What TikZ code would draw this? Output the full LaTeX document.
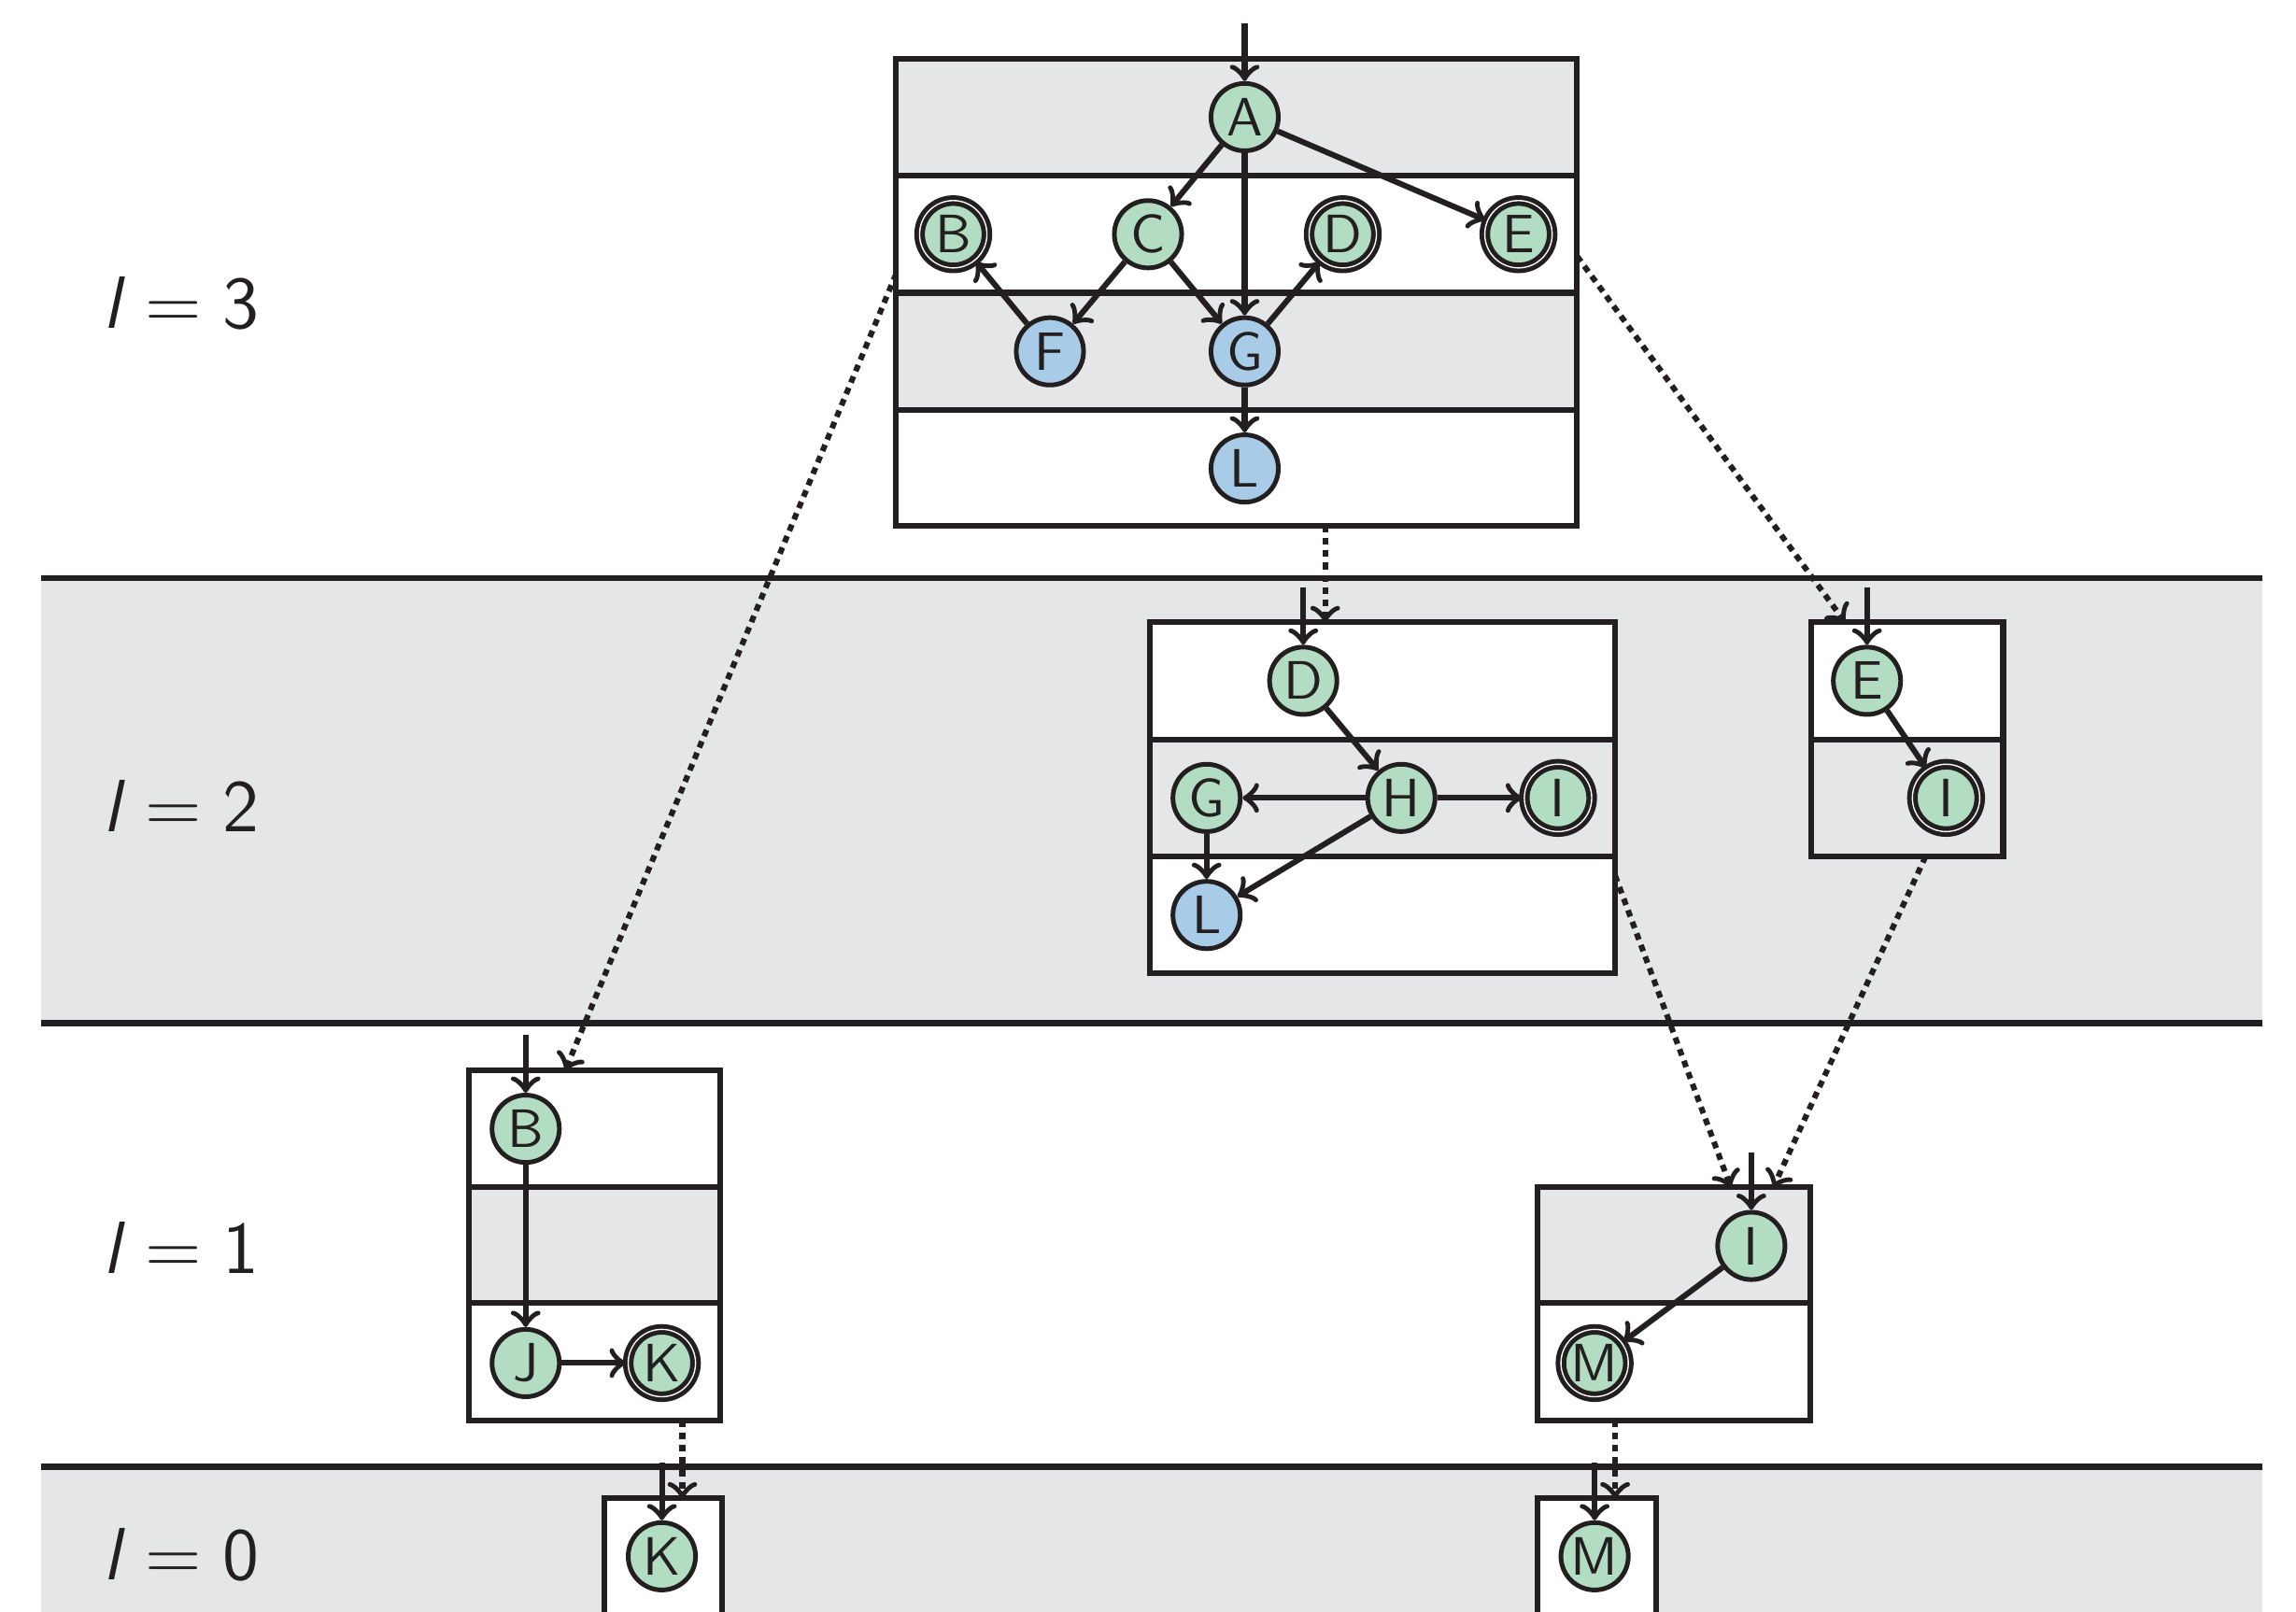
\documentclass[tikz,border=0pt]{standalone}
\usepackage{tikz}
\usetikzlibrary{arrows,positioning}
\definecolor{linec}{RGB}{35,31,32}
\definecolor{stgreen}{RGB}{179,221,194}
\definecolor{stblue}{RGB}{168,204,232}
\definecolor{bandgray}{RGB}{229,230,232}
\tikzset{
    state/.style={circle, draw=linec, line width=0.9pt, fill=stgreen, minimum size=0.46cm, inner sep=0pt, text=linec, font=\sffamily\fontsize{10.5}{12}\selectfont},
    final/.style={state, double, line width=0.9pt, double distance=0.25pt},
    deep/.style={fill=stblue},
    trans/.style={->, line width=1.1pt, draw=linec},
    jump/.style={->, line width=1.1pt, draw=linec, dash pattern=on 1.3pt off 1.1pt},
    frame/.style={draw=linec, line width=1.1pt},
    levelline/.style={draw=linec, line width=1.2pt},
    lvl/.style={anchor=base, text=linec, font=\sffamily\Large}
}

\begin{document}
\begin{tikzpicture}[x=1cm, y=1cm]
    \useasboundingbox (0,0) rectangle (15.68,-11.01);

    % levels
    \fill[bandgray] (0.28,-3.95) rectangle (15.45,-6.99);
    \fill[bandgray] (0.28,-10.02) rectangle (15.45,-11.01);
    \foreach \y in {-3.95,-6.99,-10.02}
        \draw[levelline] (0.28,\y) -- (15.45,\y);
    \node[lvl] (lvl3) at (1.235,-2.245) {\textsl{l}${}={}$3};
    \node[lvl] (lvl2) at (1.235,-5.68) {\textsl{l}${}={}$2};
    \node[lvl] (lvl1) at (1.235,-8.70) {\textsl{l}${}={}$1};
    \node[lvl] (lvl0) at (1.235,-10.79) {\textsl{l}${}={}$0};

    % boxes
    \fill[bandgray] (6.12,-0.40) rectangle (10.77,-1.20);
    \fill[bandgray] (6.12,-2.00) rectangle (10.77,-2.80);
    \draw[frame] (6.12,-0.40) rectangle (10.77,-3.59);
    \foreach \y in {-1.20,-2.00,-2.80}
        \draw[frame] (6.12,\y) -- (10.77,\y);

    \fill[white] (7.85,-4.25) rectangle (11.03,-6.65);
    \fill[bandgray] (7.85,-5.05) rectangle (11.03,-5.85);
    \draw[frame] (7.85,-4.25) rectangle (11.03,-6.65);
    \foreach \y in {-5.05,-5.85}
        \draw[frame] (7.85,\y) -- (11.03,\y);

    \fill[white] (12.37,-4.25) rectangle (13.68,-5.05);
    \draw[frame] (12.37,-4.25) rectangle (13.68,-5.85);
    \draw[frame] (12.37,-5.05) -- (13.68,-5.05);

    \fill[bandgray] (3.20,-8.11) rectangle (4.92,-8.90);
    \draw[frame] (3.20,-7.31) rectangle (4.92,-9.70);
    \foreach \y in {-8.11,-8.90}
        \draw[frame] (3.20,\y) -- (4.92,\y);

    \fill[bandgray] (10.50,-8.11) rectangle (12.36,-8.90);
    \draw[frame] (10.50,-8.11) rectangle (12.36,-9.70);
    \draw[frame] (10.50,-8.90) -- (12.36,-8.90);

    \fill[white] (4.13,-10.235) rectangle (4.93,-11.01);
    \draw[frame] (4.13,-11.01) -- (4.13,-10.235) -- (4.93,-10.235) -- (4.93,-11.01);
    \fill[white] (10.50,-10.235) rectangle (11.31,-11.01);
    \draw[frame] (10.50,-11.01) -- (10.50,-10.235) -- (11.31,-10.235) -- (11.31,-11.01);

    % states
    \node[state] (A3) at (8.50,-0.80) {A};
    \node[final] (B3) at (6.51,-1.60) {B};
    \node[state] (C3) at (7.84,-1.60) {C};
    \node[final] (D3) at (9.17,-1.60) {D};
    \node[final] (E3) at (10.37,-1.60) {E};
    \node[state, deep] (F3) at (7.17,-2.40) {F};
    \node[state, deep] (G3) at (8.50,-2.40) {G};
    \node[state, deep] (L3) at (8.50,-3.20) {L};

    \node[state] (D2) at (8.90,-4.65) {D};
    \node[state] (G2) at (8.24,-5.45) {G};
    \node[state] (H2) at (9.57,-5.45) {H};
    \node[final] (I2) at (10.64,-5.45) {I};
    \node[state, deep] (L2) at (8.24,-6.25) {L};
    \node[state] (E2) at (12.75,-4.65) {E};
    \node[final] (I2b) at (13.29,-5.45) {I};

    \node[state] (B1) at (3.59,-7.71) {B};
    \node[state] (J1) at (3.59,-9.31) {J};
    \node[final] (K1) at (4.52,-9.31) {K};
    \node[state] (I1) at (11.96,-8.51) {I};
    \node[final] (M1) at (10.89,-9.31) {M};

    \node[state] (K0) at (4.52,-10.63) {K};
    \node[state] (M0) at (10.89,-10.63) {M};

    % entries
    \coordinate (inA3) at (8.50,-0.16);
    \coordinate (inD2) at (8.90,-4.01);
    \coordinate (inE2) at (12.75,-4.01);
    \coordinate (inB1) at (3.59,-7.07);
    \coordinate (inI1) at (11.96,-7.87);
    \coordinate (inK0) at (4.52,-9.99);
    \coordinate (inM0) at (10.89,-9.99);

    \draw[trans] (inA3) -- (A3);
    \draw[trans] (A3) -- (C3);
    \draw[trans] (A3) -- (G3);
    \draw[trans] (A3) -- (E3);
    \draw[trans] (C3) -- (F3);
    \draw[trans] (C3) -- (G3);
    \draw[trans] (F3) -- (B3);
    \draw[trans] (G3) -- (D3);
    \draw[trans] (G3) -- (L3);

    \draw[trans] (inD2) -- (D2);
    \draw[trans] (D2) -- (H2);
    \draw[trans] (H2) -- (G2);
    \draw[trans] (H2) -- (I2);
    \draw[trans] (H2) -- (L2);
    \draw[trans] (G2) -- (L2);
    \draw[trans] (inE2) -- (E2);
    \draw[trans] (E2) -- (I2b);

    \draw[trans] (inB1) -- (B1);
    \draw[trans] (B1) -- (J1);
    \draw[trans] (J1) -- (K1);
    \draw[trans] (inI1) -- (I1);
    \draw[trans] (I1) -- (M1);

    \draw[trans] (inK0) -- (K0);
    \draw[trans] (inM0) -- (M0);

    % calls between boxes
    \coordinate (outB) at (6.12,-1.87);
    \coordinate (outD) at (9.05,-3.59);
    \coordinate (outE) at (10.77,-1.75);
    \coordinate (outI) at (11.03,-5.98);
    \coordinate (outIb) at (13.15,-5.85);
    \coordinate (outK) at (4.66,-9.70);
    \coordinate (outM) at (11.03,-9.70);
    \coordinate (toB) at (3.86,-7.31);
    \coordinate (toD) at (9.05,-4.25);
    \coordinate (toE) at (12.60,-4.25);
    \coordinate (toI) at (11.82,-8.11);
    \coordinate (toIb) at (12.11,-8.11);
    \coordinate (toK) at (4.66,-10.235);
    \coordinate (toM) at (11.03,-10.235);

    \draw[jump] (outB) -- (toB);
    \draw[jump] (outD) -- (toD);
    \draw[jump] (outE) -- (toE);
    \draw[jump] (outI) -- (toI);
    \draw[jump] (outIb) -- (toIb);
    \draw[jump] (outK) -- (toK);
    \draw[jump] (outM) -- (toM);
\end{tikzpicture}
\end{document}
